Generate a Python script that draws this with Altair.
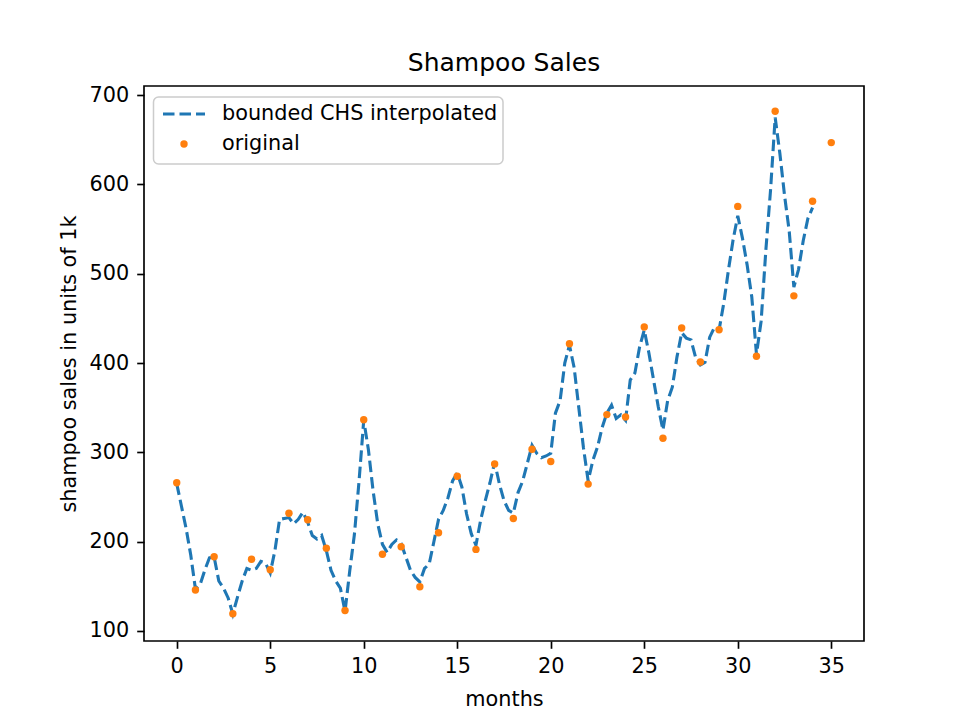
import altair as alt
import pandas as pd

# original shampoo sales (units of 1k), months 0..35
months = [0, 1, 2, 3, 4, 5, 6, 7, 8, 9, 10, 11, 12, 13, 14, 15, 16, 17,
          18, 19, 20, 21, 22, 23, 24, 25, 26, 27, 28, 29, 30, 31, 32, 33, 34, 35]
sales = [266.0, 145.9, 183.1, 119.3, 180.3, 168.5, 231.8, 224.5, 192.8, 122.9,
         336.5, 185.9, 194.3, 149.5, 210.1, 273.3, 191.4, 287.0, 226.0, 303.6,
         289.9, 421.6, 264.5, 342.3, 339.7, 440.4, 315.9, 439.3, 401.3, 437.4,
         575.5, 407.6, 682.0, 475.3, 581.3, 646.9]

# interpolated curve at quarter-month steps
interp_t = [
    0.0, 0.25, 0.5, 0.75, 1.0, 1.25, 1.5, 1.75, 2.0, 2.25, 2.5, 2.75,
    3.0, 3.25, 3.5, 3.75, 4.0, 4.25, 4.5, 4.75, 5.0, 5.25, 5.5, 5.75,
    6.0, 6.25, 6.5, 6.75, 7.0, 7.25, 7.5, 7.75, 8.0, 8.25, 8.5, 8.75,
    9.0, 9.25, 9.5, 9.75, 10.0, 10.25, 10.5, 10.75, 11.0, 11.25, 11.5, 11.75,
    12.0, 12.25, 12.5, 12.75, 13.0, 13.25, 13.5, 13.75, 14.0, 14.25, 14.5, 14.75,
    15.0, 15.25, 15.5, 15.75, 16.0, 16.25, 16.5, 16.75, 17.0, 17.25, 17.5, 17.75,
    18.0, 18.25, 18.5, 18.75, 19.0, 19.25, 19.5, 19.75, 20.0, 20.25, 20.5, 20.75,
    21.0, 21.25, 21.5, 21.75, 22.0, 22.25, 22.5, 22.75, 23.0, 23.25, 23.5, 23.75,
    24.0, 24.25, 24.5, 24.75, 25.0, 25.25, 25.5, 25.75, 26.0, 26.25, 26.5, 26.75,
    27.0, 27.25, 27.5, 27.75, 28.0, 28.25, 28.5, 28.75, 29.0, 29.25, 29.5, 29.75,
    30.0, 30.25, 30.5, 30.75, 31.0, 31.25, 31.5, 31.75, 32.0, 32.25, 32.5, 32.75,
    33.0, 33.25, 33.5, 33.75, 34.0]
interp_v = [
    265, 240, 215, 185, 147, 152, 168, 182, 183, 156, 148, 137,
    119, 138, 156, 170, 168, 170, 178, 176, 165, 190, 225, 226,
    227, 220, 225, 233, 222, 207, 203, 207, 190, 168, 156, 148,
    122, 167, 208, 268, 336, 303, 257, 220, 197, 188, 197, 202,
    198, 183, 168, 160, 155, 170, 175, 200, 225, 235, 249, 268,
    277, 261, 231, 209, 196, 224, 246, 266, 289, 265, 246, 235,
    232, 255, 268, 288, 308, 299, 294, 296, 299, 344, 358, 400,
    420, 395, 350, 305, 268, 291, 306, 328, 344, 353, 338, 342,
    336, 381, 389, 418, 437, 411, 381, 351, 325, 358, 373, 407,
    434, 428, 426, 406, 398, 401, 429, 440, 437, 467, 504, 538,
    565, 540, 510, 474, 410, 447, 526, 593, 675, 635, 588, 548,
    485, 505, 537, 562, 574]

x_ticks = [0, 5, 10, 15, 20, 25, 30, 35]
y_ticks = [100, 200, 300, 400, 500, 600, 700]
legend_labels = ["bounded CHS interpolated", "original"]

W, H = 720, 555
FONT = "DejaVu Sans"
BLUE = "#1f77b4"
ORANGE = "#ff7f0e"

orig_df = pd.DataFrame({"month": months, "sales": sales})
interp_df = pd.DataFrame({"month": interp_t, "sales": interp_v})

x_scale = alt.Scale(domain=[-1.75, 36.75], nice=False, zero=False)
y_scale = alt.Scale(domain=[88.8, 710.3], nice=False, zero=False)

x_axis = alt.Axis(title="months", values=x_ticks, grid=False, domain=False,
                  tickSize=7.3, tickWidth=1.67, tickColor="black",
                  labelFont=FONT, labelFontSize=20.8, labelColor="black",
                  labelBaseline="alphabetic", labelPadding=24.5,
                  titleFont=FONT, titleFontSize=20.8, titleFontWeight="normal",
                  titleColor="black", titleBaseline="alphabetic",
                  titleY=64, titleX=W / 2, titleAlign="center")
y_axis = alt.Axis(title="shampoo sales in units of 1k", values=y_ticks, grid=False,
                  domain=False, tickSize=7.3, tickWidth=1.67, tickColor="black",
                  labelFont=FONT, labelFontSize=20.8, labelColor="black",
                  labelBaseline="middle", labelPadding=8,
                  titleFont=FONT, titleFontSize=20.8, titleFontWeight="normal",
                  titleColor="black", titleAngle=270, titleBaseline="middle",
                  titleAlign="center", titleX=-75, titleY=H / 2)

line = alt.Chart(interp_df).mark_line(
    color=BLUE, strokeWidth=3.1, strokeDash=[11.5, 5], clip=True
).encode(
    x=alt.X("month:Q", scale=x_scale, axis=x_axis),
    y=alt.Y("sales:Q", scale=y_scale, axis=y_axis),
    order="month:Q",
)

points = alt.Chart(orig_df).mark_circle(
    color=ORANGE, size=55, opacity=1
).encode(
    x=alt.X("month:Q", scale=x_scale),
    y=alt.Y("sales:Q", scale=y_scale),
)

# legend (decorative, drawn in pixel space like matplotlib's legend box)
one = pd.DataFrame({"k": [0]})
leg_box = alt.Chart(one).mark_rect(
    fill="white", fillOpacity=0.8, stroke="#cccccc", strokeWidth=1.5, cornerRadius=5
).encode(x=alt.value(9.5), x2=alt.value(359), y=alt.value(11), y2=alt.value(78))
leg_line = alt.Chart(one).mark_rule(
    color=BLUE, strokeWidth=3.1, strokeDash=[11.5, 5]
).encode(x=alt.value(19), x2=alt.value(61), y=alt.value(28))
leg_dot = alt.Chart(one).mark_circle(color=ORANGE, size=55, opacity=1).encode(
    x=alt.value(40), y=alt.value(58))
leg_text1 = alt.Chart(one).mark_text(
    align="left", baseline="middle", font=FONT, fontSize=20.8, color="black",
    text=legend_labels[0]
).encode(x=alt.value(78), y=alt.value(28))
leg_text2 = alt.Chart(one).mark_text(
    align="left", baseline="middle", font=FONT, fontSize=20.8, color="black",
    text=legend_labels[1]
).encode(x=alt.value(78), y=alt.value(58))

chart = alt.layer(line, points, leg_box, leg_line, leg_dot, leg_text1, leg_text2).properties(
    width=W,
    height=H,
    background="white",
    title=alt.TitleParams("Shampoo Sales", font=FONT, fontSize=25, fontWeight="normal",
                          color="black", anchor="middle", baseline="alphabetic",
                          offset=14, dy=26),
    autosize=alt.AutoSizeParams(type="none"),
    padding={"left": 136, "top": 78, "right": 80, "bottom": 76},
).configure_view(
    stroke="black", strokeWidth=1.67
)

chart.save("out.html", embed_options={"renderer": "svg", "actions": False})
